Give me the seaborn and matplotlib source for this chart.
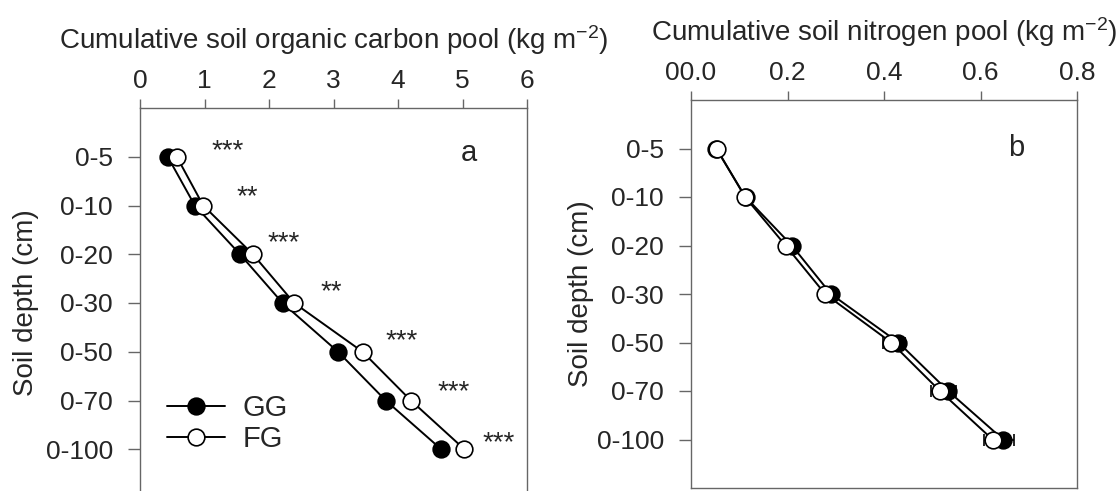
import numpy as np
import matplotlib
matplotlib.use("Agg")
import matplotlib.pyplot as plt
import seaborn as sns
import pandas as pd

# depth classes (top -> bottom)
depth_labels = ['0-5', '0-10', '0-20', '0-30', '0-50', '0-70', '0-100']

# cumulative soil organic carbon pool (kg m-2)
soc_gg = [0.43, 0.85, 1.55, 2.21, 3.07, 3.81, 4.67]
soc_fg = [0.57, 0.98, 1.75, 2.39, 3.45, 4.20, 5.03]

# cumulative soil nitrogen pool (kg m-2)
sn_gg = [0.052, 0.113, 0.209, 0.290, 0.430, 0.533, 0.647]
sn_fg = [0.053, 0.112, 0.196, 0.278, 0.415, 0.516, 0.625]
sn_gg_err = [0.0, 0.0, 0.004, 0.006, 0.014, 0.017, 0.022]
sn_fg_err = [0.0, 0.0, 0.004, 0.006, 0.017, 0.019, 0.018]

# significance stars in panel a
star_text = ['***', '**', '***', '**', '***', '***', '***']
star_x = [1.36, 1.67, 2.23, 2.97, 4.05, 4.87, 5.56]
star_y = [-0.2, 0.75, 1.7, 2.7, 3.7, 4.75, 5.8]

sns.set_style("ticks")
plt.rcParams['font.family'] = ['Liberation Sans', 'DejaVu Sans']
plt.rcParams['mathtext.fontset'] = 'custom'
plt.rcParams['mathtext.rm'] = 'Liberation Sans'
plt.rcParams['mathtext.default'] = 'regular'

depth_pos = np.arange(len(depth_labels))
soc = pd.DataFrame({'depth': np.tile(depth_pos, 2),
                    'value': soc_gg + soc_fg,
                    'group': ['GG'] * 7 + ['FG'] * 7})
sn = pd.DataFrame({'depth': np.tile(depth_pos, 2),
                   'value': sn_gg + sn_fg,
                   'group': ['GG'] * 7 + ['FG'] * 7})

W, H = 1119, 491
fig = plt.figure(figsize=(W / 100, H / 100), dpi=100)
ax_a = fig.add_axes([140 / W, (H - 498) / H, 387 / W, 390 / H])
ax_b = fig.add_axes([691 / W, (H - 488) / H, 386 / W, 388 / H])

face = {'GG': 'black', 'FG': 'white'}
spine_col = '#666666'


def draw(ax, df, errs=None):
    for g in ['GG', 'FG']:
        sub = df[df['group'] == g]
        if errs is not None:
            ax.errorbar(sub['value'], sub['depth'], xerr=errs[g], fmt='none',
                        ecolor='black', elinewidth=1.2, capsize=4, capthick=1.2, zorder=2)
        sns.lineplot(data=sub, x='value', y='depth', orient='y', sort=False, ax=ax,
                     color='black', linewidth=1.4, marker='o', markersize=12,
                     markerfacecolor=face[g], markeredgecolor='black',
                     markeredgewidth=1.2, label=g, zorder=3)


draw(ax_a, soc)
draw(ax_b, sn, errs={'GG': sn_gg_err, 'FG': sn_fg_err})

for ax, xmax, xt, xtl, title, ypad in [
        (ax_a, 6, [0, 1, 2, 3, 4, 5, 6], ['0', '1', '2', '3', '4', '5', '6'],
         'Cumulative soil organic carbon pool (kg m$^{-2}$)', 5),
        (ax_b, 0.8, [0, 0.2, 0.4, 0.6, 0.8], ['00.0', '0.2', '0.4', '0.6', '0.8'],
         'Cumulative soil nitrogen pool (kg m$^{-2}$)', 2)]:
    ax.set_xlim(0, xmax)
    ax.set_ylim(7, -1)
    ax.xaxis.tick_top()
    ax.xaxis.set_label_position('top')
    ax.set_xticks(xt)
    ax.set_xticklabels(xtl)
    ax.set_yticks(depth_pos)
    ax.set_yticklabels(depth_labels)
    ax.set_xlabel(title, fontsize=20, labelpad=15)
    ax.set_ylabel('Soil depth (cm)', fontsize=20, labelpad=ypad)
    ax.tick_params(axis='x', direction='out', length=6.5, width=1, color=spine_col,
                   labelsize=19, pad=4)
    ax.tick_params(axis='y', direction='out', length=8.5, width=1, color=spine_col,
                   labelsize=19, pad=11)
    for s in ax.spines.values():
        s.set_visible(True)
        s.set_color(spine_col)
        s.set_linewidth(1.0)

for t, x, y in zip(star_text, star_x, star_y):
    ax_a.text(x, y + 0.08, t, ha='center', va='center', fontsize=20)

ax_a.text(5.1, -0.07, 'a', ha='center', va='center', fontsize=21)
ax_b.text(0.675, -0.02, 'b', ha='center', va='center', fontsize=21)

ax_a.legend(loc='center left', bbox_to_anchor=(0.07, 0.19), frameon=False,
            fontsize=21, handlelength=2.0, handletextpad=0.6, labelspacing=0.1,
            borderpad=0, borderaxespad=0)
if ax_b.get_legend():
    ax_b.get_legend().remove()

fig.savefig('out.png', dpi=100)
